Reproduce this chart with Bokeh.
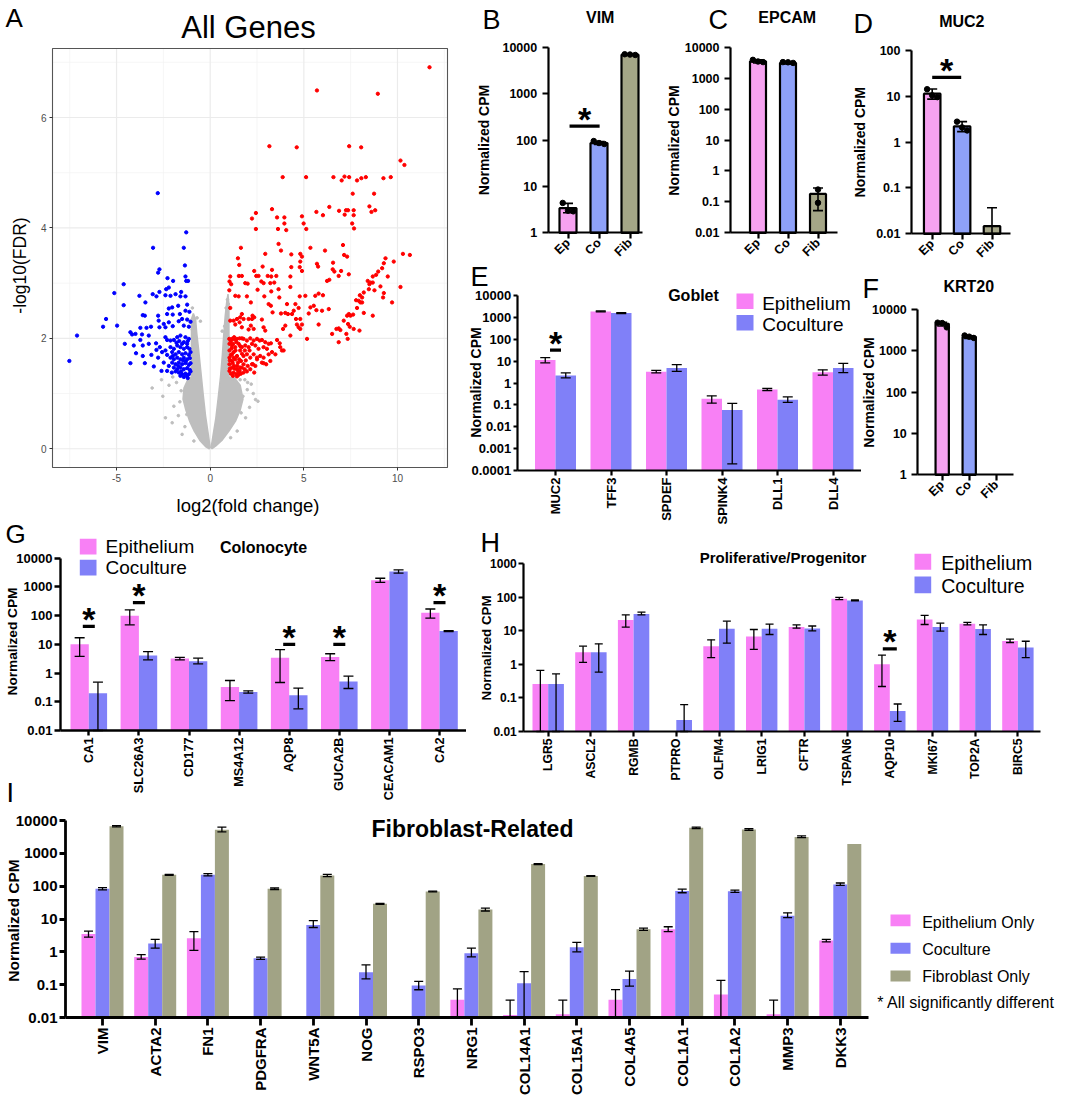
import math
from bokeh.plotting import figure
from bokeh.layouts import column, row
from bokeh.models import Range1d, FixedTicker, CustomJSTickFormatter, Label, BoxAnnotation
from bokeh.embed import file_html
from bokeh.resources import INLINE

# ============================ DATA ============================
# Panel A - volcano plot: (log2 fold change, -log10 FDR)
UP_GENES = [
 (11.71,6.91),(5.70,6.49),(8.95,6.43),(3.16,5.48),(4.62,5.46),(7.42,5.48),(8.06,5.46),
 (10.16,5.22),(10.37,5.14),(3.87,4.92),(5.12,4.92),(6.58,4.92),(7.17,4.93),(7.02,4.86),
 (7.42,4.92),(7.84,4.86),(8.07,4.90),(8.31,4.92),(9.25,4.90),(9.64,4.92),(7.61,4.62),(8.75,4.62),
 (3.30,4.34),(2.44,4.27),(2.23,4.17),(3.57,4.19),(3.96,4.19),(3.96,4.08),(2.44,3.98),(3.62,3.98),
 (4.06,3.96),(4.90,4.21),(4.99,4.08),(5.13,3.98),(5.67,4.29),(6.02,4.23),(6.36,4.38),(6.88,4.31),
 (7.18,4.24),(7.25,4.32),(7.36,4.32),(7.66,4.32),(7.66,4.23),(7.58,4.08),(7.68,3.99),(8.50,4.39),
 (8.61,4.29),(8.81,4.32),
 (1.64,3.64),(1.48,3.45),(1.55,3.33),(3.65,3.71),(3.78,3.59),(2.94,3.53),(4.33,3.52),(4.81,3.53),
 (4.90,3.48),(4.81,3.39),(5.35,3.64),(6.13,3.59),(7.09,3.69),(7.15,3.51),(7.31,3.48),(10.29,3.53),
 (10.66,3.51),(9.80,3.39),(9.36,3.45),(9.27,3.36),(9.18,3.27),(8.97,3.21),(8.86,3.15),(8.68,3.12),
 (9.48,3.12),(4.33,3.29),(4.28,3.12),(4.78,3.29),(4.90,3.22),(5.70,3.35),(5.76,3.30),(6.56,3.37),
 (6.54,3.25),(6.63,3.21),(6.99,3.22),(7.40,3.16),(6.86,3.13),(2.35,3.22),(2.46,3.13),(2.58,3.13),
 (2.80,3.30),(3.07,3.13),(3.30,3.24),(3.26,3.12),(3.53,3.13),
 (1.07,3.12),(1.03,3.03),(1.02,2.87),(1.12,2.98),(1.34,2.77),(1.53,3.13),(1.69,3.13),(1.87,3.00),
 (2.00,2.99),(2.73,3.03),(2.85,3.00),(3.21,3.00),(3.42,3.01),(2.53,2.88),(3.26,2.85),(3.65,2.89),
 (4.28,2.93),(2.89,2.76),(3.69,2.74),(4.78,2.76),(5.08,2.77),(1.96,2.76),(2.17,2.65),(1.52,2.76),
 (1.07,2.55),(5.61,2.77),(5.79,2.81),(6.02,2.78),(6.24,3.04),(6.36,3.06),(8.41,3.04),(8.50,2.98),
 (8.56,3.01),(8.68,3.01),(8.47,2.89),(8.77,2.87),(9.09,2.94),(9.27,2.82),(9.23,2.74),(10.16,2.93),
 (9.71,2.65),(8.20,2.83),(7.99,2.78),(8.11,2.74),(7.79,2.69),(7.93,2.68),(8.02,2.65),(8.11,2.65),
 (7.84,2.55),(8.20,2.46),(8.68,2.41),
 (3.12,2.62),(3.24,2.59),(4.10,2.62),(4.55,2.62),(4.46,2.50),(4.72,2.55),(3.33,2.47),(3.78,2.45),
 (4.01,2.46),(4.15,2.44),(4.37,2.44),(5.35,2.56),(5.53,2.59),(5.67,2.51),(5.97,2.50),(6.33,2.53),
 (5.26,2.45),(4.81,2.35),(4.58,2.35),
 (1.69,2.44),(1.60,2.38),(1.43,2.35),(1.78,2.35),(2.05,2.35),(2.26,2.41),(2.23,2.35),(2.35,2.38),
 (1.07,2.32),(1.25,2.32),(1.34,2.25),(1.57,2.29),(1.69,2.20),(2.17,2.23),(2.32,2.17),(2.05,2.16),
 (2.76,2.34),(2.85,2.20),(2.94,2.14),(4.01,2.23),(3.89,2.17),(4.28,2.05),(4.63,2.25),(4.72,2.20),
 (4.81,2.17),(4.90,2.25),(5.17,1.99),(5.79,2.25),(6.51,2.08),(6.74,2.17),(6.86,2.18),(6.95,2.15),
 (6.86,1.93),(7.27,2.08),(7.34,1.99),(7.13,2.32),(7.31,2.41),(7.40,2.44),(7.49,2.41),(7.63,2.43),
 (7.36,2.26),(7.45,2.21),(7.66,2.17),(7.97,2.14),
 (1.02,1.99),(1.16,1.99),(1.28,2.02),(1.43,1.99),(1.57,2.00),(1.69,2.00),(1.78,1.99),(1.96,1.96),
 (2.14,2.00),(2.32,1.96),(2.50,1.99),(2.64,1.96),(2.76,1.97),(2.94,1.93),(3.12,1.90),(3.24,1.91),
 (3.57,1.97),(3.71,1.91),(3.83,1.78),(3.74,1.84),(3.92,1.78),
 (1.03,1.90),(1.16,1.87),(1.34,1.84),(1.52,1.90),(1.69,1.84),(1.87,1.87),(2.05,1.84),(2.23,1.90),
 (2.41,1.87),(2.58,1.81),(2.85,1.84),(3.03,1.81),(3.30,1.75),(3.48,1.71),
 (1.03,1.78),(1.16,1.71),(1.25,1.75),(1.43,1.68),(1.60,1.78),(1.78,1.68),(1.96,1.71),(2.14,1.65),
 (2.32,1.71),(2.50,1.65),(2.67,1.68),(2.85,1.65),(2.99,1.53),(3.12,1.71),(3.21,1.59),
 (1.03,1.65),(1.18,1.59),(1.34,1.62),(1.48,1.56),(1.64,1.59),(1.78,1.53),(2.00,1.50),(2.23,1.53),
 (2.41,1.50),(2.50,1.62),(2.76,1.56),(2.85,1.55),
 (1.03,1.53),(1.16,1.47),(1.28,1.50),(1.43,1.44),(1.57,1.41),(1.69,1.47),(1.84,1.44),(1.96,1.40),
 (2.14,1.44),(2.28,1.53),(2.35,1.38),(1.03,1.41),(1.11,1.36),(1.25,1.38),(1.39,1.35),(1.52,1.34),
 (1.64,1.36),(1.78,1.38),(1.21,1.32),(1.43,1.31),(1.60,1.47),
 (1.10,1.70),(1.20,1.55),(1.30,1.45),(1.15,1.82),(1.05,1.45),(1.25,1.65),(1.45,1.50),(1.35,1.78),
 (1.55,1.62),(1.70,1.72),(1.10,1.95),(1.22,1.90),(1.40,1.93),(1.60,1.86),(1.85,1.78),(1.90,1.60),
 (2.10,1.78),(1.05,1.60),(1.30,1.98),(1.50,1.40),
]
DOWN_GENES = [
 (-2.80,4.63),(-1.28,3.92),(-3.05,3.64),(-1.41,3.64),(-1.35,3.32),(-2.71,3.25),(-2.78,3.19),
 (-1.32,3.12),(-1.28,3.04),(-1.18,3.04),(-2.28,3.09),(-1.98,3.04),(-4.62,2.98),(-5.12,2.82),
 (-2.21,2.92),(-2.35,2.89),(-2.71,2.84),(-3.07,2.80),(-2.87,2.76),(-3.78,2.77),(-2.39,2.78),
 (-2.12,2.77),(-1.85,2.80),(-1.55,2.84),(-1.59,2.76),(-1.32,2.76),(-3.46,2.65),(-4.62,2.60),
 (-2.21,2.54),(-2.03,2.56),(-1.71,2.59),(-1.23,2.61),(-3.60,2.42),(-3.49,2.41),(-2.78,2.41),
 (-2.30,2.44),(-2.00,2.43),(-1.62,2.44),(-1.32,2.50),(-1.11,2.48),(-5.56,2.35),(-5.72,2.21),
 (-4.97,2.23),(-7.11,2.05),(-7.52,1.59),
 (-2.75,2.32),(-2.48,2.26),(-2.21,2.29),(-2.00,2.22),(-1.68,2.31),(-1.50,2.35),(-1.23,2.34),
 (-1.05,2.30),(-1.41,2.23),(-1.14,2.21),(-2.71,2.20),(-2.39,2.20),(-3.73,2.19),(-3.40,2.19),
 (-3.16,2.21),(-4.26,2.11),(-4.17,2.07),(-3.64,2.07),(-3.28,2.05),(-4.56,1.90),(-4.08,1.87),
 (-3.60,1.87),(-3.28,1.90),(-3.73,1.97),(-3.99,2.08),(-4.26,1.55),(-3.96,1.73),(-3.60,1.68),
 (-3.49,1.55),(-3.14,1.70),(-3.01,1.49),(-2.89,1.91),(-2.69,1.84),(-2.87,1.79),(-2.57,1.75),
 (-2.39,1.78),(-2.78,1.65),(-2.48,1.56),(-2.60,1.41),(-2.30,1.41),(-2.39,2.02),(-2.30,1.97),
 (-2.12,1.96),(-1.94,1.97),(-1.76,2.02),(-1.59,2.05),(-1.32,2.02),(-1.14,1.99),(-1.23,1.90),
 (-1.41,1.93),
 (-2.12,1.84),(-1.94,1.81),(-1.76,1.87),(-1.59,1.84),(-1.41,1.81),(-1.23,1.84),(-1.11,1.81),
 (-2.03,1.75),(-1.85,1.71),(-1.68,1.75),(-1.50,1.71),(-1.32,1.73),(-1.14,1.70),(-2.12,1.65),
 (-1.94,1.62),(-1.76,1.65),(-1.59,1.62),(-1.41,1.65),(-1.23,1.62),(-1.09,1.64),(-2.03,1.56),
 (-1.85,1.53),(-1.68,1.56),(-1.50,1.53),(-1.32,1.55),(-1.14,1.52),(-2.21,1.50),(-1.94,1.47),
 (-1.76,1.44),(-1.59,1.47),(-1.41,1.44),(-1.23,1.46),(-1.09,1.43),(-1.68,1.38),(-1.50,1.35),
 (-1.32,1.36),(-1.14,1.35),(-1.59,1.32),(-1.41,1.30),(-1.23,1.32),
 (-1.05,1.75),(-1.05,1.55),(-1.05,1.40),(-1.20,1.95),(-1.50,1.90),(-1.80,1.92),(-2.30,1.70),
 (-2.00,1.68),(-1.65,1.95),(-1.30,1.58),(-1.55,1.40),(-1.85,1.40),(-2.05,1.38),(-1.20,1.28),
 (-1.45,1.60),(-1.70,1.50),
]
NS_GENES = [
 (-3.10,1.10),(-2.53,0.95),(-2.39,0.56),(-1.94,0.77),(-2.03,0.47),(1.98,1.07),(2.19,1.17),
 (2.42,0.89),(2.55,0.86),(1.89,0.56),(1.44,0.32),(-1.50,0.26),(1.09,0.20),(-0.87,0.14),
 (-0.70,2.37),(-0.52,2.31),(-0.96,2.16),(0.64,2.13),(0.91,2.31),(0.77,2.22),(-1.80,1.20),
 (-2.20,1.15),(-1.70,0.60),(1.60,1.25),(2.00,1.20),(2.30,1.00),(1.30,0.70),(-1.20,1.28),
 (-1.35,0.40),(1.20,1.25),(0.85,2.55),(-0.95,2.55),(-2.60,1.25),(-2.00,1.30),(1.75,0.95),(2.10,0.75),
 (-1.55,1.05),(-1.62,0.85),(1.85,1.25),(1.65,0.65),(-1.25,0.62),(1.45,0.85),(0.92,2.70),(0.97,2.62),
]
NS_LEFT_X = [0.0,-0.12,-0.25,-0.38,-0.50,-0.62,-0.72,-0.78,-0.90,-1.0,-1.0,-1.2,-1.4,-1.45,-1.3,-1.1,-0.85,-0.55,-0.25,-0.05]
NS_LEFT_Y = [0.02,0.30,0.60,1.00,1.40,1.80,2.10,2.35,2.45,2.35,1.30,1.25,1.10,0.90,0.70,0.50,0.32,0.15,0.04,0.0]
NS_RIGHT_X = [0.05,0.18,0.30,0.42,0.55,0.65,0.73,0.80,0.88,0.95,1.0,1.0,1.3,1.6,1.75,1.6,1.35,1.0,0.65,0.3,0.1]
NS_RIGHT_Y = [0.02,0.30,0.55,0.90,1.30,1.70,2.10,2.40,2.65,2.80,2.60,1.30,1.28,1.15,0.90,0.70,0.50,0.32,0.16,0.05,0.0]
VOL_XTICKS = [-5, 0, 5, 10]
VOL_XMINOR = [-7.5, -2.5, 2.5, 7.5, 12.5]
VOL_YTICKS = [0, 2, 4, 6]
VOL_YMINOR = [1, 3, 5, 7]

# Panels B, C, D, F - single genes, Normalized CPM
SMALL_GROUPS = ["Ep", "Co", "Fib"]
VIM_MEAN = [3.4, 86, 6900]
VIM_HI = [4.3, 93, 7100]
VIM_LO = [2.7, 80, 6700]
VIM_DOTS = [[4.4, 3.0, 2.9], [95, 86, 82], [7050, 6950, 6800]]
VIM_SIG = (0.05, 1.02, 200)
EPCAM_MEAN = [3500, 3100, 0.18]
EPCAM_HI = [3900, 3350, 0.28]
EPCAM_LO = [3100, 2900, 0.052]
EPCAM_DOTS = [[3900, 3450, 3300], [3300, 3250, 3100], [0.25, 0.093]]
MUC2_MEAN = [11.4, 2.2, 0.0147]
MUC2_HI = [14.5, 2.8, 0.037]
MUC2_LO = [8.7, 1.7, 0.01]
MUC2_DOTS = [[14.3, 10.5, 9.6], [2.8, 2.1, 1.8], []]
MUC2_SIG = (0, 0.97, 26)
KRT20_MEAN = [4500, 2150, None]
KRT20_HI = [4900, 2300, None]
KRT20_LO = [4000, 2000, None]
KRT20_DOTS = [[4800, 4700, 3700], [2350, 2200, 2050], []]

# Panel E - Goblet
GOBLET_GENES = ["MUC2", "TFF3", "SPDEF", "SPINK4", "DLL1", "DLL4"]
GOBLET_EP = [11.3, 1870, 3.3, 0.19, 0.50, 3.1]
GOBLET_EP_HI = [14.5, 1960, 3.8, 0.26, 0.56, 4.0]
GOBLET_EP_LO = [8.4, 1790, 2.9, 0.12, 0.45, 2.3]
GOBLET_CO = [2.2, 1580, 4.9, 0.059, 0.17, 4.9]
GOBLET_CO_HI = [2.9, 1660, 6.9, 0.118, 0.23, 7.9]
GOBLET_CO_LO = [1.7, 1500, 3.4, 0.0002, 0.13, 3.0]
GOBLET_SIG = [(0, 32)]

# Panel G - Colonocyte
COLON_GENES = ["CA1", "SLC26A3", "CD177", "MS4A12", "AQP8", "GUCA2B", "CEACAM1", "CA2"]
COLON_EP = [10, 100, 3.2, 0.33, 3.4, 3.6, 1700, 125]
COLON_EP_HI = [17, 158, 3.5, 0.55, 6.5, 4.7, 2000, 170]
COLON_EP_LO = [3.8, 48, 2.9, 0.11, 0.47, 2.7, 1450, 82]
COLON_CO = [0.20, 4.1, 2.6, 0.22, 0.17, 0.51, 3450, 29]
COLON_CO_HI = [0.48, 5.6, 3.3, 0.24, 0.30, 0.78, 3900, 30]
COLON_CO_LO = [0.01, 2.9, 2.1, 0.20, 0.057, 0.29, 3000, 28]
COLON_SIG = [(0, 42), (1, 282), (4, 10), (5, 10), (7, 282)]

# Panel H - Proliferative / Progenitor
PROG_GENES = ["LGR5", "ASCL2", "RGMB", "PTPRO", "OLFM4", "LRIG1", "CFTR", "TSPAN6", "AQP10", "MKI67", "TOP2A", "BIRC5"]
PROG_EP = [0.26, 2.3, 21, None, 3.5, 6.8, 13, 91, 1.02, 22, 16.3, 5.0]
PROG_EP_HI = [0.66, 3.5, 30, None, 5.4, 11, 15, 100, 1.9, 29, 18, 5.7]
PROG_EP_LO = [0.01, 1.15, 13, None, 1.6, 2.8, 12, 85, 0.22, 15.5, 15, 4.5]
PROG_CO = [0.26, 2.3, 32, 0.022, 11.5, 11.5, 11.8, 81, 0.041, 13, 11.3, 3.2]
PROG_CO_HI = [0.52, 4.1, 36, 0.063, 19.5, 16, 14, 84, 0.066, 17, 15, 4.9]
PROG_CO_LO = [0.01, 0.59, 30, 0.01, 4.3, 7.8, 10, 79, 0.020, 9.8, 7.8, 1.6]
PROG_SIG = [(8, 2.9)]

# Panel I - Fibroblast-related
FIB_GENES = ["VIM", "ACTA2", "FN1", "PDGFRA", "WNT5A", "NOG", "RSPO3", "NRG1", "COL14A1",
             "COL15A1", "COL4A5", "COL1A1", "COL1A2", "MMP3", "DKK3"]
FIB_EP = [3.5, 0.70, 2.6, None, None, None, None, 0.035, 0.012, 0.0125, 0.035, 4.9, 0.050, 0.0125, 2.2]
FIB_EP_HI = [4.3, 0.82, 4.1, None, None, None, None, 0.074, 0.034, 0.034, 0.071, 5.8, 0.135, 0.034, 2.4]
FIB_EP_LO = [2.8, 0.60, 1.1, None, None, None, None, 0.01, 0.01, 0.01, 0.01, 4.1, 0.01, 0.01, 2.0]
FIB_CO = [83, 1.8, 222, 0.64, 6.6, 0.24, 0.095, 0.91, 0.11, 1.38, 0.15, 71, 70, 12.6, 112]
FIB_CO_HI = [90, 2.4, 240, 0.69, 8.9, 0.40, 0.126, 1.3, 0.25, 1.95, 0.26, 81, 76, 15.4, 125]
FIB_CO_LO = [77, 1.3, 205, 0.59, 5.5, 0.15, 0.07, 0.7, 0.01, 1.0, 0.09, 63, 65, 11, 105]
FIB_FB = [6700, 222, 5200, 83, 213, 29, 69, 19.5, 470, 205, 4.9, 6000, 5300, 3170, 1920]
FIB_FB_HI = [7000, 230, 6300, 88, 230, 30, 71, 21.5, 485, 210, 5.3, 6300, 5600, 3400, None]
FIB_FB_LO = [6400, 215, 4500, 78, 196, 28, 67, 17.5, 455, 200, 4.5, 5700, 5000, 3000, None]

# ============================ STYLE / LAYOUT ============================
S = 1.0
FONT = "Liberation Sans"
SM_COLORS = ["#F6A2F0", "#8EA1F8", "#A5A687"]
EP_C = "#F880F5"
CO_C = "#8080F8"
FB_C = "#A1A385"
BASELINE_SHIFT = 0.3   # the page draws 'alphabetic' labels about 0.3 em low
LOG_FMT = "return tick >= 1 ? tick.toFixed(0) : String(parseFloat(tick.toPrecision(1)));"
CAT_FMT = "var i = Math.round(tick); return (i >= 0 && i < names.length) ? names[i] : '';"


def px(v):
    return int(round(v * S))


def fs(v):
    return "%.1fpx" % (v * S)


class Panel:
    """A figure whose frame fills its whole canvas; axes are pinned (fixed_location)
    at the edges of the data area, so texts around the data area stay visible."""

    def __init__(self, box, frame, xr, yr, ylog):
        bx0, by0, bx1, by1 = box
        fl, ft, fr, fb = frame
        self.ox = px(bx0)
        self.oy = px(by0)
        W = px(bx1) - px(bx0)
        H = px(by1) - px(by0)
        self.H = H
        L = S * fl - self.ox
        R = S * fr - self.ox
        T = S * ft - self.oy
        B = S * fb - self.oy
        kx = (xr[1] - xr[0]) / (R - L)
        X0 = xr[0] - L * kx
        X1 = xr[1] + (W - R) * kx
        if ylog:
            l0, l1 = math.log10(yr[0]), math.log10(yr[1])
        else:
            l0, l1 = yr
        ky = (l1 - l0) / (B - T)
        Y0 = l0 - (H - B) * ky
        Y1 = l1 + T * ky
        if ylog:
            Y0, Y1 = 10.0 ** Y0, 10.0 ** Y1
        self.p = figure(width=W, height=H, x_range=Range1d(X0, X1), y_range=Range1d(Y0, Y1),
                        y_axis_type="log" if ylog else "linear",
                        output_backend="svg", toolbar_location=None, tools="", title=None,
                        min_border=0, min_border_left=0, min_border_right=0,
                        min_border_top=0, min_border_bottom=0)
        p = self.p
        p.outline_line_color = None
        p.xgrid.visible = False
        p.ygrid.visible = False
        p.background_fill_color = "white"
        p.border_fill_color = "white"
        p.xaxis.fixed_location = yr[0]
        p.xaxis.bounds = (xr[0], xr[1])
        p.yaxis.fixed_location = xr[0]
        p.yaxis.bounds = (yr[0], yr[1])

    def sx(self, x):
        return S * x - self.ox

    def sy(self, y):
        return self.H - (S * y - self.oy)

    def text(self, x, y, s, size, bold=False, align="left", baseline="alphabetic", angle=0.0, color="black"):
        if baseline == "alphabetic":
            y = y - BASELINE_SHIFT * size
        self.p.add_layout(Label(x=self.sx(x), y=self.sy(y), x_units="screen", y_units="screen",
                                text=s, text_font=FONT, text_font_size=fs(size),
                                text_font_style="bold" if bold else "normal",
                                text_align=align, text_baseline=baseline, angle=angle, text_color=color))

    def rect(self, x0, y0, x1, y1, color):
        self.p.add_layout(BoxAnnotation(left=self.sx(x0), right=self.sx(x1),
                                        top=self.sy(y0), bottom=self.sy(y1),
                                        left_units="screen", right_units="screen",
                                        top_units="screen", bottom_units="screen",
                                        fill_color=color, fill_alpha=1.0, line_color=None))


def style_axes(p, lw, tick_len, size, standoff):
    for ax in p.axis:
        ax.axis_line_color = "black"
        ax.axis_line_width = lw
        ax.major_tick_line_color = "black"
        ax.major_tick_line_width = lw
        ax.major_tick_out = tick_len
        ax.major_tick_in = 0
        ax.minor_tick_line_color = None
        ax.major_label_text_font = FONT
        ax.major_label_text_font_style = "bold"
        ax.major_label_text_font_size = fs(size)
        ax.major_label_text_color = "black"
        ax.major_label_standoff = standoff


def log_axis(p, lo, hi):
    p.yaxis.ticker = FixedTicker(ticks=[10.0 ** k for k in range(lo, hi + 1)])
    p.yaxis.formatter = CustomJSTickFormatter(code=LOG_FMT)


def star(p, xa, xb, y):
    p.segment(x0=[xa], x1=[xb], y0=[y], y1=[y], line_color="black", line_width=3.3)
    p.add_layout(Label(x=(xa + xb) / 2.0, y=y, text="*", text_font=FONT, text_font_size=fs(34),
                       text_font_style="bold", text_align="center", text_baseline="alphabetic",
                       text_color="black", y_offset=7.5))


def errorbars(p, xs, hi, lo, cw, lw):
    ex = [x for x, h in zip(xs, hi) if h is not None]
    eh = [h for h in hi if h is not None]
    el = [l for h, l in zip(hi, lo) if h is not None]
    p.segment(x0=ex, x1=ex, y0=el, y1=eh, line_color="black", line_width=lw)
    p.segment(x0=[x - cw for x in ex], x1=[x + cw for x in ex], y0=eh, y1=eh, line_color="black", line_width=lw)
    p.segment(x0=[x - cw for x in ex], x1=[x + cw for x in ex], y0=el, y1=el, line_color="black", line_width=lw)


def small_panel(box, frame, c0, d, dec, mean, hi, lo, dots, bar_px, title, title_xy,
                letter, letter_xy, ylab_xy, sig=None):
    fl, ft, fr, fb = frame
    x0 = -(c0 - fl) / d
    x1 = x0 + (fr - fl) / d
    ymin = 10.0 ** dec[0]
    pn = Panel(box, frame, (x0, x1), (ymin, 10.0 ** dec[1]), True)
    p = pn.p
    bw = bar_px / d
    for i, m in enumerate(mean):
        if m is None:
            continue
        p.vbar(x=[i], top=[m], bottom=ymin, width=bw, fill_color=SM_COLORS[i],
               line_color="black", line_width=2.2)
    errorbars(p, list(range(len(mean))), hi, lo, 5.0 / d, 1.6)
    dx, dy = [], []
    for i, vals in enumerate(dots):
        offs = [-0.17, 0.0, 0.17] if len(vals) == 3 else [0.0] * len(vals)
        for o, v in zip(offs, vals):
            dx.append(i + o)
            dy.append(v)
    p.scatter(x=dx, y=dy, size=5.5, color="black")
    style_axes(p, 2.2, 6, 12.5, 5)
    p.xaxis.ticker = FixedTicker(ticks=list(range(len(mean))))
    p.xaxis.formatter = CustomJSTickFormatter(args=dict(names=SMALL_GROUPS), code=CAT_FMT)
    p.xaxis.major_label_orientation = math.pi / 4
    p.xaxis.major_label_standoff = 2
    log_axis(p, dec[0], dec[1])
    pn.text(title_xy[0], title_xy[1], title, 16, bold=True, align="center")
    if letter is not None:
        pn.text(letter_xy[0], letter_xy[1], letter, 27)
    pn.text(ylab_xy[0], ylab_xy[1], "Normalized CPM", 14, bold=True, align="center",
            baseline="middle", angle=math.pi / 2)
    if sig is not None:
        star(p, sig[0], sig[1], sig[2])
    return pn


def grouped_panel(box, frame, c0, d, dec, names, series, colors, bar_px, cap_px, lw, ytick,
                  xtick, tick_font, xlab_font, sig, sig_px):
    fl, ft, fr, fb = frame
    x0 = -(c0 - fl) / d
    x1 = x0 + (fr - fl) / d
    ymin = 10.0 ** dec[0]
    pn = Panel(box, frame, (x0, x1), (ymin, 10.0 ** dec[1]), True)
    p = pn.p
    n = len(series)
    bw = bar_px / d
    offs = [(k - (n - 1) / 2.0) * bw for k in range(n)]
    for (mean, hi, lo), col, off in zip(series, colors, offs):
        xs = [i + off for i, m in enumerate(mean) if m is not None]
        tops = [m for m in mean if m is not None]
        p.vbar(x=xs, top=tops, bottom=ymin, width=bw, fill_color=col, line_color=None)
    for (mean, hi, lo), off in zip(series, offs):
        errorbars(p, [i + off for i in range(len(mean))], hi, lo, cap_px / d / 2.0, 1.3)
    style_axes(p, lw, 5, tick_font, 2)
    p.yaxis.major_tick_out = ytick
    p.xaxis.major_tick_out = xtick
    p.xaxis.ticker = FixedTicker(ticks=list(range(len(names))))
    p.xaxis.formatter = CustomJSTickFormatter(args=dict(names=names), code=CAT_FMT)
    p.xaxis.major_label_orientation = math.pi / 2
    p.xaxis.major_label_text_font_size = fs(xlab_font)
    log_axis(p, dec[0], dec[1])
    for i, h in sig:
        star(p, i - sig_px / d / 2.0, i + sig_px / d / 2.0, h)
    return pn


# ---------------- Panel A ----------------
VX = (-8.42, 12.67)
VY = (-0.34, 7.25)
pa = Panel((0, 0, 466, 516), (52, 48, 447, 467), VX, VY, False)
p = pa.p
p.xaxis.ticker = FixedTicker(ticks=VOL_XTICKS)
p.yaxis.ticker = FixedTicker(ticks=VOL_YTICKS)
for ax in p.axis:
    ax.axis_line_color = None
    ax.major_tick_line_color = "#333333"
    ax.major_tick_out = 3
    ax.major_tick_in = 0
    ax.minor_tick_line_color = None
    ax.major_label_text_font = FONT
    ax.major_label_text_font_size = fs(10)
    ax.major_label_text_color = "#4D4D4D"
    ax.major_label_standoff = 3
    ax.formatter = CustomJSTickFormatter(code="return tick.toString();")
p.segment(x0=VOL_XMINOR, x1=VOL_XMINOR, y0=[VY[0]] * len(VOL_XMINOR), y1=[VY[1]] * len(VOL_XMINOR),
          line_color="#F2F2F2", line_width=0.7)
p.segment(x0=[VX[0]] * len(VOL_YMINOR), x1=[VX[1]] * len(VOL_YMINOR), y0=VOL_YMINOR, y1=VOL_YMINOR,
          line_color="#F2F2F2", line_width=0.7)
p.segment(x0=VOL_XTICKS, x1=VOL_XTICKS, y0=[VY[0]] * len(VOL_XTICKS), y1=[VY[1]] * len(VOL_XTICKS),
          line_color="#EBEBEB", line_width=1.2)
p.segment(x0=[VX[0]] * len(VOL_YTICKS), x1=[VX[1]] * len(VOL_YTICKS), y0=VOL_YTICKS, y1=VOL_YTICKS,
          line_color="#EBEBEB", line_width=1.2)
p.patch(NS_LEFT_X, NS_LEFT_Y, fill_color="#BEBEBE", line_color="#BEBEBE", line_width=1.5)
p.patch(NS_RIGHT_X, NS_RIGHT_Y, fill_color="#BEBEBE", line_color="#BEBEBE", line_width=1.5)
p.scatter(x=[a for a, b in NS_GENES], y=[b for a, b in NS_GENES], size=2.6, color="#BEBEBE")
p.scatter(x=[a for a, b in DOWN_GENES], y=[b for a, b in DOWN_GENES], size=3.3, color="#0000FF")
p.scatter(x=[a for a, b in UP_GENES], y=[b for a, b in UP_GENES], size=3.3, color="#FF0000")
p.quad(left=[VX[0]], right=[VX[1]], bottom=[VY[0]], top=[VY[1]], fill_color=None,
       line_color="#555555", line_width=1.1)
pa.text(5, 25, "A", 26)
pa.text(248, 36.7, "All Genes", 31, align="center")
pa.text(19, 265, "-log10(FDR)", 17.5, align="center", baseline="middle", angle=math.pi / 2)
pa.text(247.5, 511, "log2(fold change)", 18.5, align="center")

# ---------------- Panels B, C, D, F ----------------
pb = small_panel((466, 0, 662, 260), (547.7, 46.7, 642, 232.3), 567.5, 31.0, (0, 4),
                 VIM_MEAN, VIM_HI, VIM_LO, VIM_DOTS, 17, "VIM", (599.7, 21.7),
                 "B", (482, 28), (483, 139.5), sig=VIM_SIG)
pc = small_panel((662, 0, 848, 260), (730, 46.7, 836.7, 232.3), 757.5, 30.0, (-2, 4),
                 EPCAM_MEAN, EPCAM_HI, EPCAM_LO, EPCAM_DOTS, 16, "EPCAM", (786.7, 21.7),
                 "C", (708, 28), (673.5, 140))
pd = small_panel((848, 0, 1065, 260), (911, 50, 1010, 233.3), 931.7, 29.9, (-2, 2),
                 MUC2_MEAN, MUC2_HI, MUC2_LO, MUC2_DOTS, 16.5, "MUC2", (961.3, 26),
                 "D", (853, 31.7), (859, 141.7), sig=MUC2_SIG)
pf = small_panel((861, 260, 1065, 525), (917.3, 309, 1012.7, 474.3), 941.7, 27.0, (0, 4),
                 KRT20_MEAN, KRT20_HI, KRT20_LO, KRT20_DOTS, 13.3, "KRT20", (968.3, 291),
                 "F", (862, 297), (868, 392))

# ---------------- Panel E ----------------
pe = grouped_panel((466, 260, 861, 525), (516.7, 295, 861, 470), 555, 55.5, (-4, 4),
                   GOBLET_GENES,
                   [(GOBLET_EP, GOBLET_EP_HI, GOBLET_EP_LO), (GOBLET_CO, GOBLET_CO_HI, GOBLET_CO_LO)],
                   [EP_C, CO_C], 20.5, 10, 2.2, 4, 5, 13, 13, GOBLET_SIG, 11)
pe.text(470, 285, "E", 27)
pe.text(693, 300, "Goblet", 16, bold=True, align="center")
pe.rect(736, 293, 753, 308.5, EP_C)
pe.rect(736, 314.5, 753, 330, CO_C)
pe.text(761.7, 308.3, "Epithelium", 19)
pe.text(761.7, 329.3, "Coculture", 19)
pe.text(475, 382, "Normalized CPM", 14, bold=True, align="center", baseline="middle", angle=math.pi / 2)

# ---------------- Panel G ----------------
pg = grouped_panel((0, 516, 466, 810), (60, 557.7, 466.7, 730), 88.3, 50.1, (-2, 4),
                   COLON_GENES,
                   [(COLON_EP, COLON_EP_HI, COLON_EP_LO), (COLON_CO, COLON_CO_HI, COLON_CO_LO)],
                   [EP_C, CO_C], 18.3, 10, 2.4, 6, 5, 13, 12.7, COLON_SIG, 12)
pg.text(5, 541, "G", 26)
pg.text(6, 801, "I", 27)
pg.text(263, 551.7, "Colonocyte", 16, bold=True, align="center")
pg.rect(79.3, 538.3, 96, 554, EP_C)
pg.rect(79.3, 559.3, 96, 575, CO_C)
pg.text(105, 551.7, "Epithelium", 19)
pg.text(105, 572.7, "Coculture", 19)
pg.text(12, 641, "Normalized CPM", 13.7, bold=True, align="center", baseline="middle", angle=math.pi / 2)

# ---------------- Panel H ----------------
ph = grouped_panel((466, 525, 1065, 810), (523.3, 563.3, 1040, 731), 547.7, 42.7, (-2, 3),
                   PROG_GENES,
                   [(PROG_EP, PROG_EP_HI, PROG_EP_LO), (PROG_CO, PROG_CO_HI, PROG_CO_LO)],
                   [EP_C, CO_C], 15.7, 8, 2.2, 5, 5, 12, 12.2, PROG_SIG, 14)
ph.text(480, 551, "H", 27)
ph.text(782.5, 561.7, "Proliferative/Progenitor", 15, bold=True, align="center")
ph.rect(914, 553.3, 930.7, 569.3, EP_C)
ph.rect(914, 576, 930.7, 592.7, CO_C)
ph.text(940.7, 568.3, "Epithelium", 19.5)
ph.text(940.7, 591, "Coculture", 19.5)
ph.text(485.5, 647.5, "Normalized CPM", 13.3, bold=True, align="center", baseline="middle", angle=math.pi / 2)

# ---------------- Panel I ----------------
pi_ = grouped_panel((0, 810, 1065, 1100), (65, 820, 868, 1017), 102, 52.7, (-2, 4),
                    FIB_GENES,
                    [(FIB_EP, FIB_EP_HI, FIB_EP_LO), (FIB_CO, FIB_CO_HI, FIB_CO_LO),
                     (FIB_FB, FIB_FB_HI, FIB_FB_LO)],
                    [EP_C, CO_C, FB_C], 14, 9, 2.8, 6, 8, 15, 15, [], 10)
pi_.text(472, 835, "Fibroblast-Related", 23, bold=True, align="center")
pi_.rect(890, 914, 910, 925.7, EP_C)
pi_.rect(890, 942.3, 910, 953.3, CO_C)
pi_.rect(890, 970, 910, 981, FB_C)
pi_.text(921.7, 926.7, "Epithelium Only", 16)
pi_.text(921.7, 953.3, "Coculture", 16)
pi_.text(921.7, 981, "Fibroblast Only", 16)
pi_.text(876.7, 1007, "* All significantly different", 16)
pi_.text(13, 920, "Normalized CPM", 15.5, bold=True, align="center", baseline="middle", angle=math.pi / 2)

left_col = column(pa.p, pg.p)
right_col = column(row(pb.p, pc.p, pd.p), row(pe.p, pf.p), ph.p)
layout = column(row(left_col, right_col), pi_.p)

open("out.html", "w").write(file_html(layout, INLINE))
